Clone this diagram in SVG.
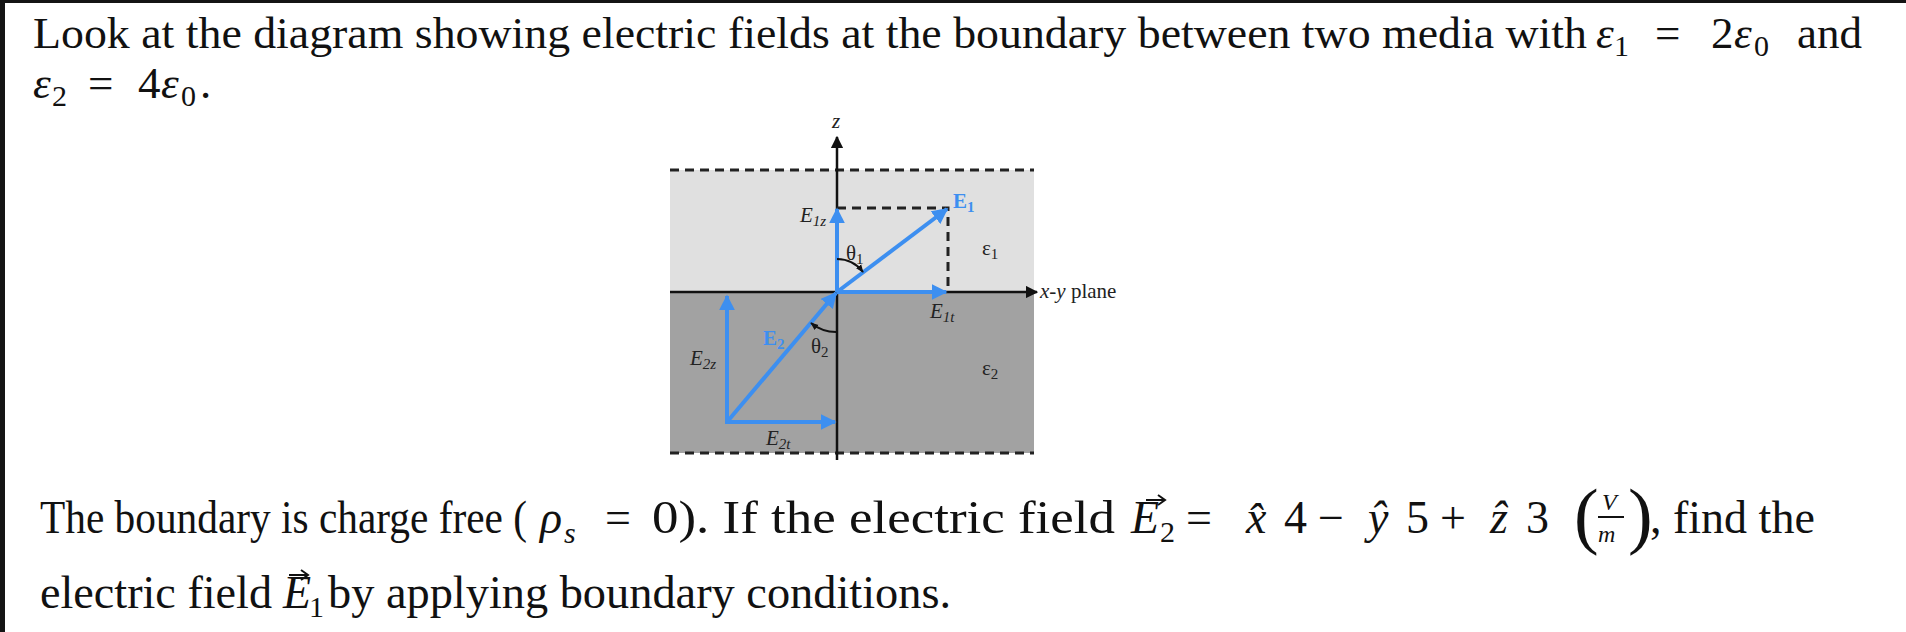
<svg xmlns="http://www.w3.org/2000/svg" width="1906" height="632" viewBox="0 0 1906 632">
<style>
.t{font-family:"Liberation Serif",serif;fill:#111}
.b{font-size:45px}.c{font-size:46px}
.m{font-style:italic}
.l{font-family:"Liberation Serif",serif;font-size:21px;fill:#222}
.s{font-size:15px}
.bl{stroke:#3d8ff0;stroke-width:4;fill:none}
.k{stroke:#111;stroke-width:2.5;fill:none}
.d{stroke:#222;stroke-width:3;stroke-dasharray:9,6;fill:none}
</style>
<defs>
<marker id="ab" viewBox="0 0 10 10" refX="9" refY="5" markerWidth="4" markerHeight="4" orient="auto"><path d="M0,0L10,5L0,10z" fill="#3d8ff0"/></marker>
<marker id="ak" viewBox="0 0 10 10" refX="9" refY="5" markerWidth="5" markerHeight="5" orient="auto"><path d="M0,0L10,5L0,10z" fill="#111"/></marker>
<marker id="as" viewBox="0 0 10 10" refX="9" refY="5" markerWidth="4" markerHeight="4" orient="auto"><path d="M0,1L10,5L0,9z" fill="#111"/></marker>
</defs>
<rect width="1906" height="632" fill="#fff"/>
<rect width="5" height="632" fill="#141414"/>
<rect width="1906" height="3" fill="#141414"/>
<g id="text">
<text class="t b" x="33" y="48" textLength="1554" lengthAdjust="spacingAndGlyphs">Look at the diagram showing electric fields at the boundary between two media with</text>
<text class="t b" y="48"><tspan class="m" x="1596">ε</tspan><tspan x="1614" y="56" font-size="30">1</tspan><tspan x="1655" y="48">=</tspan><tspan x="1711">2</tspan><tspan class="m" x="1734">ε</tspan><tspan x="1754" y="56" font-size="30">0</tspan><tspan x="1797" y="48">and</tspan></text>
<text class="t b" y="98"><tspan class="m" x="33">ε</tspan><tspan x="52" y="106" font-size="30">2</tspan><tspan x="88" y="98">=</tspan><tspan x="138">4</tspan><tspan class="m" x="161">ε</tspan><tspan x="181" y="106" font-size="30">0</tspan><tspan x="200" y="98">.</tspan></text>
<text class="t c" x="40" y="533" textLength="487" lengthAdjust="spacingAndGlyphs">The boundary is charge free (</text>
<text class="t c" y="533"><tspan class="m" x="540">ρ</tspan><tspan class="m" x="564" y="543" font-size="30">s</tspan><tspan x="605" y="533">=</tspan></text>
<text class="t c" x="652" y="533" textLength="463" lengthAdjust="spacingAndGlyphs">0). If the electric field</text>
<text class="t c" y="533"><tspan class="m" x="1131">E</tspan><tspan x="1160" y="542" font-size="30">2</tspan><tspan x="1186" y="533">=</tspan><tspan class="m" x="1246">x̂</tspan><tspan x="1284">4</tspan><tspan x="1318">−</tspan><tspan class="m" x="1368">ŷ</tspan><tspan x="1406">5</tspan><tspan x="1440">+</tspan><tspan class="m" x="1490">ẑ</tspan><tspan x="1526">3</tspan></text>
<path d="M1146,500h18M1158,495l7,5l-7,5" stroke="#111" stroke-width="2" fill="none"/>
<text class="t" font-size="74" x="1574" y="540">(</text>
<text class="t" font-size="74" x="1628" y="540">)</text>
<text class="t m" font-size="24" x="1602" y="510">V</text>
<line x1="1598" y1="517" x2="1624" y2="517" stroke="#111" stroke-width="2"/>
<text class="t m" font-size="24" x="1598" y="542">m</text>
<text class="t c" x="1650" y="533">, find the</text>
<text class="t c" x="40" y="608" textLength="232" lengthAdjust="spacingAndGlyphs">electric field</text>
<text class="t c" y="608"><tspan class="m" x="283">E</tspan><tspan x="309" y="617" font-size="30">1</tspan></text>
<path d="M289,575h18M301,570l7,5l-7,5" stroke="#111" stroke-width="2" fill="none"/>
<text class="t c" x="328" y="608" textLength="623" lengthAdjust="spacingAndGlyphs">by applying boundary conditions.</text>
</g>
<g id="media">
<rect x="670" y="170" width="364" height="122" fill="#e0e0e0"/>
<rect x="670" y="292" width="364" height="161" fill="#a2a2a2"/>
<line class="d" x1="670" y1="170" x2="1034" y2="170"/>
<line class="d" x1="670" y1="453" x2="1034" y2="453"/>
</g>
<g id="connectors">
<line class="k" x1="837" y1="460" x2="837" y2="137" marker-end="url(#ak)"/>
<line class="k" x1="670" y1="292" x2="1037" y2="292" marker-end="url(#ak)"/>
<path class="d" d="M837,208H948V292" stroke-width="2.5" stroke-dasharray="7,5"/>
<line class="bl" x1="837" y1="292" x2="947" y2="209" marker-end="url(#ab)"/>
<line class="bl" x1="837" y1="292" x2="837" y2="209" marker-end="url(#ab)"/>
<line class="bl" x1="837" y1="292" x2="946" y2="292" marker-end="url(#ab)"/>
<line class="bl" x1="727" y1="422" x2="836" y2="293" marker-end="url(#ab)"/>
<line class="bl" x1="727" y1="424" x2="727" y2="296" marker-end="url(#ab)"/>
<line class="bl" x1="725" y1="422" x2="835" y2="422" marker-end="url(#ab)"/>
<path d="M837,259A33,33 0 0 1 863,272" stroke="#111" stroke-width="2" fill="none" marker-end="url(#as)"/>
<path d="M837,332A40,40 0 0 1 811,323" stroke="#111" stroke-width="2" fill="none" marker-end="url(#as)"/>
</g>
<g id="labels">
<text class="l m" x="832" y="128" font-size="17">z</text>
<text class="l m" x="800" y="222">E<tspan class="s" dy="4">1z</tspan></text>
<text class="l" x="846" y="260">θ<tspan class="s" dy="4">1</tspan></text>
<text class="l" x="811" y="353">θ<tspan class="s" dy="4">2</tspan></text>
<text class="l" x="953" y="208" font-weight="bold" style="fill:#3d8ff0">E<tspan class="s" dy="4">1</tspan></text>
<text class="l" x="763" y="345" font-weight="bold" style="fill:#3d8ff0">E<tspan class="s" dy="4">2</tspan></text>
<text class="l" x="982" y="255">ε<tspan class="s" dy="4">1</tspan></text>
<text class="l" x="982" y="375">ε<tspan class="s" dy="4">2</tspan></text>
<text class="l m" x="930" y="318">E<tspan class="s" dy="4">1t</tspan></text>
<text class="l m" x="690" y="365">E<tspan class="s" dy="4">2z</tspan></text>
<text class="l m" x="766" y="445">E<tspan class="s" dy="4">2t</tspan></text>
<text class="l" x="1040" y="298"><tspan font-style="italic">x-y</tspan> plane</text>
</g>
</svg>
